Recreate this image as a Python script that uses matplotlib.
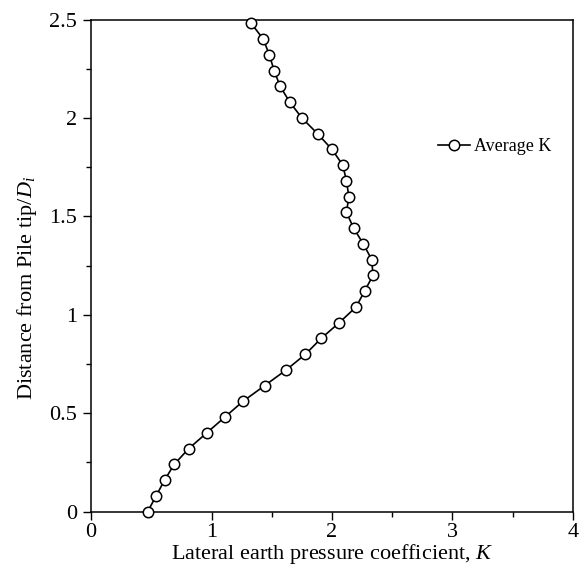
import matplotlib.pyplot as plt
from matplotlib.ticker import MultipleLocator

plt.rcParams['font.family'] = 'Liberation Serif'
plt.rcParams['mathtext.fontset'] = 'custom'
plt.rcParams['mathtext.rm'] = 'Liberation Serif'
plt.rcParams['mathtext.it'] = 'Liberation Serif:italic'

# DATA
depth = [0.00, 0.08, 0.16, 0.24, 0.32, 0.40, 0.48, 0.56, 0.64, 0.72,
         0.80, 0.88, 0.96, 1.04, 1.12, 1.20, 1.28, 1.36, 1.44, 1.52,
         1.60, 1.68, 1.76, 1.84, 1.92, 2.00, 2.08, 2.16, 2.24, 2.32,
         2.40, 2.48]
k_avg = [0.47, 0.54, 0.61, 0.69, 0.81, 0.96, 1.11, 1.26, 1.44, 1.62,
         1.78, 1.91, 2.06, 2.20, 2.27, 2.34, 2.33, 2.26, 2.18, 2.12,
         2.14, 2.12, 2.09, 2.00, 1.88, 1.75, 1.65, 1.57, 1.52, 1.48,
         1.43, 1.33]
x_ticks = [0, 1, 2, 3, 4]
y_ticks = [0, 0.5, 1, 1.5, 2, 2.5]
y_ticklabels = ['0', '0.5', '1', '1.5', '2', '2.5']

fig = plt.figure(figsize=(5.82, 5.77), dpi=100)
ax = fig.add_axes([0.1564, 0.1132, 0.8281, 0.853])

ax.plot(k_avg, depth, color='black', linewidth=1.2, marker='o',
        markersize=7.5, markerfacecolor='white', markeredgecolor='black',
        markeredgewidth=1.1, label='Average K', clip_on=False, zorder=3)

ax.set_xlim(0, 4)
ax.set_ylim(0, 2.5)
ax.set_xticks(x_ticks)
ax.set_xticklabels([str(t) for t in x_ticks])
ax.set_yticks(y_ticks)
ax.set_yticklabels(y_ticklabels)
ax.xaxis.set_minor_locator(MultipleLocator(0.5))
ax.yaxis.set_minor_locator(MultipleLocator(0.25))

ax.tick_params(which='major', direction='out', length=6, width=1,
               labelsize=16, pad=4)
ax.tick_params(axis='x', which='major', pad=2)
ax.tick_params(which='minor', direction='out', length=3.5, width=1)
ax.tick_params(top=False, right=False, which='both')
for s in ax.spines.values():
    s.set_linewidth(1.1)

ax.set_xlabel('Lateral earth pressure coefficient, $\\mathit{K}$',
              fontsize=16, labelpad=0)
ax.set_ylabel('Distance from Pile tip/$\\mathit{D_i}$', fontsize=16)
# label sits a bit below the middle of the axis in the original
ax.yaxis.set_label_coords(-0.108, 0.455)

ax.legend(loc='center left', bbox_to_anchor=(0.686, 0.742), frameon=False,
          fontsize=13, handlelength=1.8, handletextpad=0.2)

fig.savefig('out.png', dpi=100)
